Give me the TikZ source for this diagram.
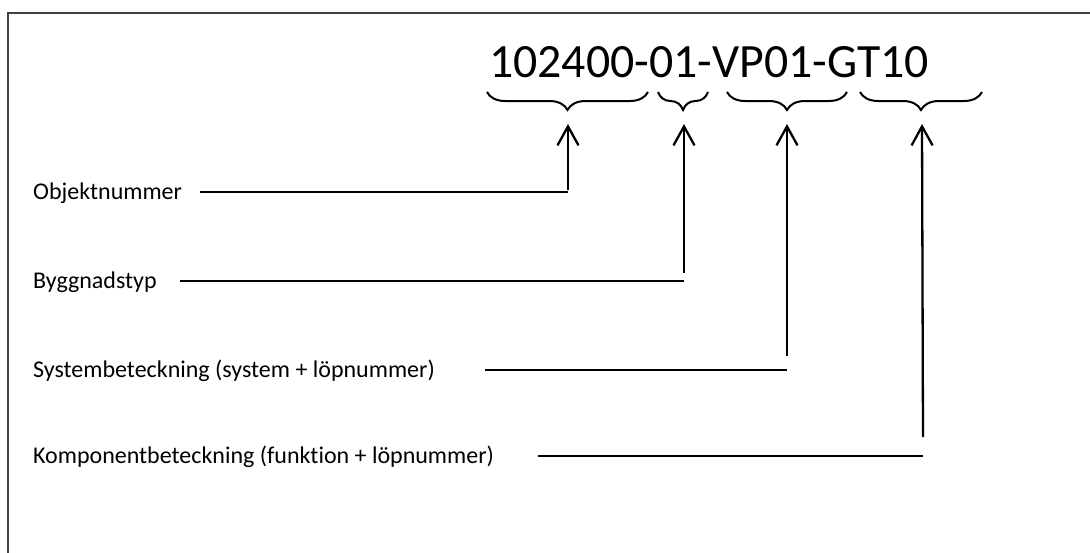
\documentclass[tikz,border=0pt]{standalone}
\usepackage{fontspec}
\setmainfont[Ligatures=NoCommon]{Carlito}
\usetikzlibrary{arrows.meta,decorations.pathreplacing}
\begin{document}
\begin{tikzpicture}[x=1pt,y=-1pt,line width=2.3pt,
  lbl/.style={anchor=base west,inner sep=0pt,font=\fontsize{24}{28}\selectfont},
  codebrace/.style={line width=2pt,decorate,decoration={brace,mirror,amplitude=18pt}},
  uparrow/.style={-{Straight Barb[length=19pt,width=21pt,line width=2.3pt]}},
  leader/.style={line cap=butt}]
\useasboundingbox (0,0) rectangle (1090,552);
% frame
\draw[line width=2pt,black!75] (8,553) -- (8,13) -- (1091,13);
% code
\node[anchor=base west,inner sep=0pt,font=\fontsize{47.8}{52}\selectfont] (code) at (488,77) {102400-01-VP01-GT10};
% braces
\draw[codebrace] (487,92) -- (648,92);
\draw[codebrace] (658,92) -- (708,92);
\draw[codebrace] (727,92) -- (847,92);
\draw[codebrace] (860,92) -- (982,92);
% arrow tips
\coordinate (t1) at (568,124);
\coordinate (t2) at (684,124);
\coordinate (t3) at (787,124);
\coordinate (t4) at (922,124);
% labels
\node[lbl] (obj) at (32,199) {Objektnummer};
\node[lbl] (byg) at (32,288) {Byggnadstyp};
\node[lbl] (sys) at (32,377) {Systembeteckning (system + löpnummer)};
\node[lbl] (komp) at (32,463) {Komponentbeteckning (funktion + löpnummer)};
% leader start/end points
\coordinate (h1s) at (200,192); \coordinate (h1e) at (568,192); \coordinate (v1) at (568,190);
\coordinate (h2s) at (180,281); \coordinate (h2e) at (684,281); \coordinate (v2) at (684,273);
\coordinate (h3s) at (485,370); \coordinate (h3e) at (787,370); \coordinate (v3) at (787,356);
\coordinate (h4s) at (538,456); \coordinate (h4e) at (923,456); \coordinate (v4) at (923,437);
\draw[leader] (h1s) -- (h1e);
\draw[leader] (h2s) -- (h2e);
\draw[leader] (h3s) -- (h3e);
\draw[leader] (h4s) -- (h4e);
\draw[uparrow] (v1) -- (t1);
\draw[uparrow] (v2) -- (t2);
\draw[uparrow] (v3) -- (t3);
\draw[uparrow] (v4) -- (t4);
\end{tikzpicture}
\end{document}
